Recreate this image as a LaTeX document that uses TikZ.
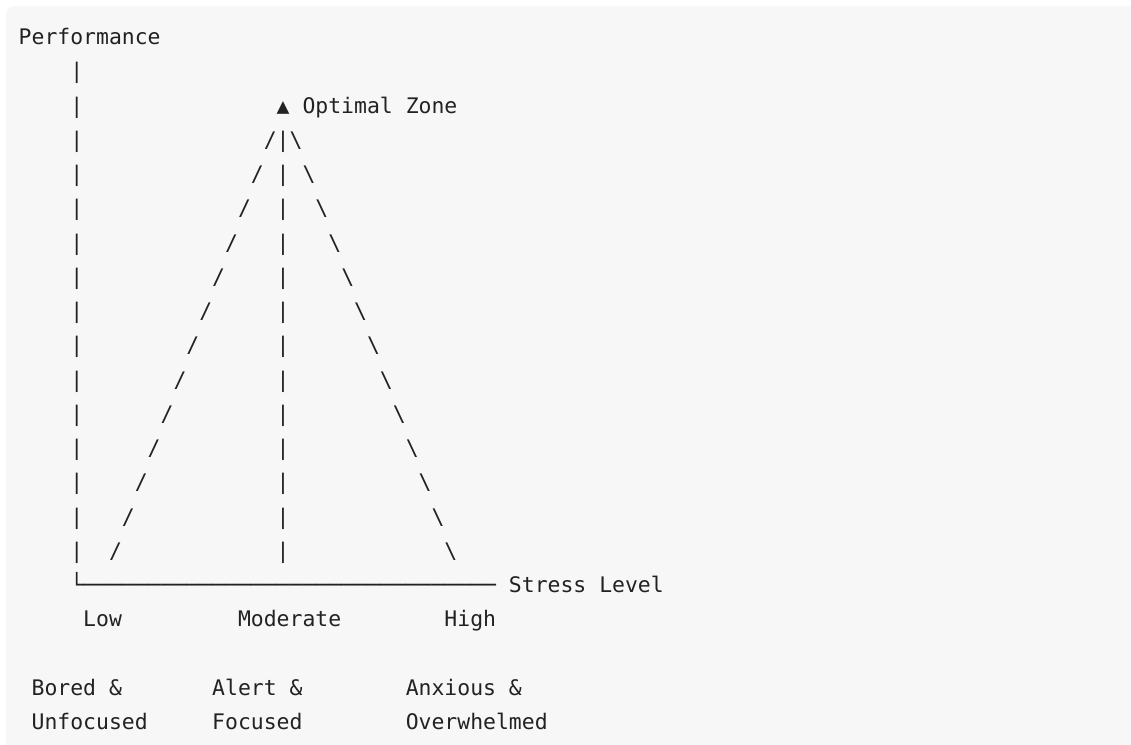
\documentclass[tikz,border=0pt]{standalone}
\usepackage{fontspec}
\setmonofont{DejaVu Sans Mono}
\definecolor{ink}{HTML}{222222}
\definecolor{paper}{HTML}{F7F7F7}
\begin{document}
\begin{tikzpicture}[x=1pt,y=-1pt,
  cell/.style={inner sep=0pt, outer sep=0pt, anchor=base west, text=ink,
    font=\fontsize{21.43}{34.25}\selectfont\ttfamily}]
% character grid: origin, cell width, first baseline, line pitch
\def\xo{18.7}
\def\cw{12.902}
\def\yo{44.5}
\def\lh{34.25}
\newcommand\gridcell[4]{% name, column, row, text
  \node[cell] (#1) at ({\xo+#2*\cw},{\yo+#3*\lh}) {#4};}

\useasboundingbox (0,0) rectangle (1131,744);
\fill[white] (0,0) rectangle (1131,744);
\begin{scope}
  \clip (0,0) rectangle (1131,744);
  \fill[paper, rounded corners=8pt] (6,6) rectangle (1150,760);
\end{scope}

% vertical axis
\gridcell{ylabel}{0}{0}{Performance}
\foreach \r in {1,...,15} {\gridcell{axis-\r}{4}{\r}{|}}

% peak marker
\gridcell{peak}{20}{2}{▲ Optimal Zone}

% the inverted-U drawn with slashes and the centre line
\foreach \r in {3,...,15} {
  \pgfmathtruncatemacro\lc{19-(\r-3)}
  \pgfmathtruncatemacro\rc{21+(\r-3)}
  \gridcell{rise-\r}{\lc}{\r}{/}
  \gridcell{mid-\r}{20}{\r}{|}
  \gridcell{fall-\r}{\rc}{\r}{\textbackslash}
}

% horizontal axis
\gridcell{xaxis}{4}{16}{└────────────────────────────────}
\gridcell{xlabel}{38}{16}{Stress Level}

% stress levels
\gridcell{low}{5}{17}{Low}
\gridcell{moderate}{17}{17}{Moderate}
\gridcell{high}{33}{17}{High}

% states
\gridcell{bored}{1}{19}{Bored \&}
\gridcell{unfocused}{1}{20}{Unfocused}
\gridcell{alert}{15}{19}{Alert \&}
\gridcell{focused}{15}{20}{Focused}
\gridcell{anxious}{30}{19}{Anxious \&}
\gridcell{overwhelmed}{30}{20}{Overwhelmed}
\end{tikzpicture}
\end{document}
